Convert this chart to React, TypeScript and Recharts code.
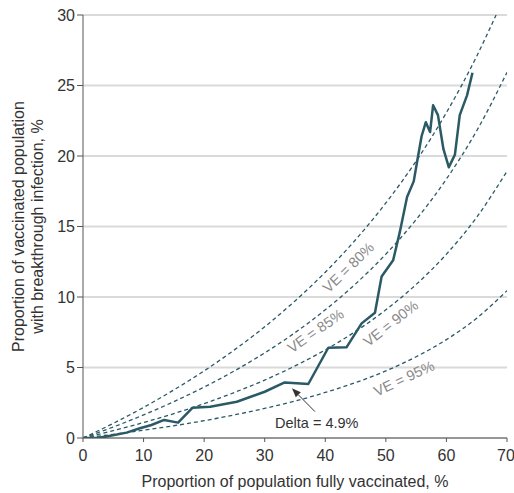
import { LineChart, Line, XAxis, YAxis, CartesianGrid, ReferenceDot, ReferenceLine } from 'recharts';

// theoretical VE curves, every 5 points of coverage
const veX = [0, 5, 10, 15, 20, 25, 30, 35, 40, 45, 50, 55, 60, 65, 70];
const ve80X = [0, 5, 10, 15, 20, 25, 30, 35, 40, 45, 50, 55, 60, 65, 68.2];
const ve80 = [0, 1.04, 2.17, 3.41, 4.76, 6.25, 7.89, 9.72, 11.76, 14.06, 16.67, 19.64, 23.08, 27.08, 30];
const ve85 = [0, 0.78, 1.64, 2.58, 3.61, 4.76, 6.04, 7.47, 9.09, 10.93, 13.04, 15.49, 18.37, 21.79, 25.93];
const ve90 = [0, 0.52, 1.1, 1.73, 2.44, 3.23, 4.11, 5.11, 6.25, 7.56, 9.09, 10.89, 13.04, 15.66, 18.92];
const ve95 = [0, 0.26, 0.55, 0.87, 1.23, 1.64, 2.1, 2.62, 3.23, 3.93, 4.76, 5.76, 6.98, 8.5, 10.45];

// observed breakthrough share (Delta period)
const deltaX = [0, 2.2, 3.9, 7.2, 9.4, 11.3, 13.4, 15.7, 18.1, 21.0, 25.4, 30.0, 33.3, 37.2, 40.5, 43.5, 46.0, 48.2, 49.3, 51.2, 52.3, 53.5, 54.6, 55.2, 55.9, 56.6, 57.3, 57.8, 58.6, 59.5, 60.4, 61.4, 62.2, 63.4, 64.3];
const deltaY = [0, 0, 0.1, 0.38, 0.69, 0.92, 1.28, 1.09, 2.15, 2.22, 2.57, 3.28, 3.94, 3.83, 6.4, 6.43, 8.13, 8.89, 11.45, 12.6, 14.6, 17.1, 18.2, 19.7, 21.4, 22.4, 21.7, 23.6, 22.9, 20.5, 19.2, 20.1, 22.9, 24.3, 25.9];

const xTicks = [0, 10, 20, 30, 40, 50, 60, 70];
const yTicks = [0, 5, 10, 15, 20, 25, 30];

const veLabels = [
  { text: 'VE = 80%', x: 43.8, y: 12.1, angle: -44 },
  { text: 'VE = 85%', x: 38.4, y: 7.6, angle: -35 },
  { text: 'VE = 90%', x: 50.8, y: 8.13, angle: -38 },
  { text: 'VE = 95%', x: 53.0, y: 4.23, angle: -25 },
];
const deltaNote = { text: 'Delta = 4.9%', x: 38.6, y: 1.06 };
const deltaArrow = [{ x: 38.3, y: 1.87 }, { x: 34.5, y: 3.52 }];

const toPts = (xs: number[], ys: number[]) => xs.map((x, i) => ({ x, y: ys[i] }));

const FONT = '"Liberation Sans", Arial, sans-serif';
const LINE = '#2b5966';
const INK = '#333';

const Arrow = (p: any) => {
  const { x1, y1, x2, y2 } = p;
  const dx = x2 - x1, dy = y2 - y1;
  const len = Math.sqrt(dx * dx + dy * dy) || 1;
  const ux = dx / len, uy = dy / len;
  const bx = x2 - ux * 9, by = y2 - uy * 9;
  const head = `${x2},${y2} ${bx - uy * 3.5},${by + ux * 3.5} ${bx + uy * 3.5},${by - ux * 3.5}`;
  return (
    <g>
      <line x1={x1} y1={y1} x2={bx} y2={by} stroke={INK} strokeWidth={1} />
      <polygon points={head} fill={INK} />
    </g>
  );
};

export default function App() {
  const curves = [
    toPts(ve80X, ve80),
    toPts(veX, ve85),
    toPts(veX, ve90),
    toPts(veX, ve95),
  ];
  return (
    <div style={{ position: 'absolute', left: 0, top: 0, fontFamily: FONT }}>
      <LineChart width={514} height={493} margin={{ top: 15, right: 7, bottom: 0, left: 0 }}>
        <CartesianGrid vertical={false} stroke="#dadada" strokeWidth={2} />
        <XAxis
          type="number"
          dataKey="x"
          domain={[0, 70]}
          ticks={xTicks}
          allowDataOverflow
          height={55}
          tickSize={4}
          tickMargin={8}
          stroke="#555"
          tick={{ fill: INK, fontSize: 16, fontFamily: FONT }}
          label={{
            content: (p: any) => (
              <text x={p.viewBox.x + p.viewBox.width / 2} y={487} textAnchor="middle" fill={INK} fontSize={16} fontFamily={FONT}>
                Proportion of population fully vaccinated, %
              </text>
            ),
          }}
        />
        <YAxis
          type="number"
          domain={[0, 30]}
          ticks={yTicks}
          allowDataOverflow
          width={83}
          tickSize={6}
          stroke="#555"
          tick={{ fill: INK, fontSize: 16, fontFamily: FONT }}
          label={{
            content: (p: any) => {
              const cy = p.viewBox.y + p.viewBox.height / 2;
              return (
                <g fill={INK} fontSize={16} fontFamily={FONT} textAnchor="middle">
                  <text x={24} y={cy} transform={`rotate(-90 24 ${cy})`}>Proportion of vaccinated population</text>
                  <text x={43} y={cy} transform={`rotate(-90 43 ${cy})`}>with breakthrough infection, %</text>
                </g>
              );
            },
          }}
        />
        {curves.map((d, i) => (
          <Line
            key={i}
            data={d}
            dataKey="y"
            type="monotone"
            stroke={LINE}
            strokeWidth={1.3}
            strokeDasharray="4 3"
            dot={false}
            activeDot={false}
            isAnimationActive={false}
          />
        ))}
        <Line
          data={toPts(deltaX, deltaY)}
          dataKey="y"
          type="linear"
          stroke={LINE}
          strokeWidth={2.5}
          strokeLinejoin="round"
          dot={false}
          activeDot={false}
          isAnimationActive={false}
        />
        {veLabels.map((l) => (
          <ReferenceDot
            key={l.text}
            x={l.x}
            y={l.y}
            r={1}
            shape={(p: any) => (
              <text
                x={p.cx}
                y={p.cy}
                dy="0.35em"
                textAnchor="middle"
                fill="#8a8a8a"
                fontSize={14.5}
                fontFamily={FONT}
                transform={`rotate(${l.angle} ${p.cx} ${p.cy})`}
              >
                {l.text}
              </text>
            )}
          />
        ))}
        <ReferenceLine segment={deltaArrow} shape={Arrow} />
        <ReferenceDot
          x={deltaNote.x}
          y={deltaNote.y}
          r={1}
          shape={(p: any) => (
            <text x={p.cx} y={p.cy} dy="0.35em" textAnchor="middle" fill={INK} fontSize={14.5} fontFamily={FONT}>
              {deltaNote.text}
            </text>
          )}
        />
      </LineChart>
    </div>
  );
}
